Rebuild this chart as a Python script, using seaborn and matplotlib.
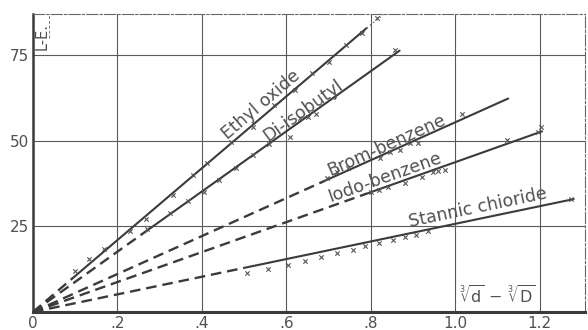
import numpy as np
import pandas as pd
import matplotlib
matplotlib.use("Agg")
import matplotlib.pyplot as plt
import seaborn as sns

# ---- data -------------------------------------------------------------
names = ["Ethyl oxide", "Di-isobutyl", "Brom-benzene", "Iodo-benzene", "Stannic chioride"]

# fitted lines: origin -> start of observed range (dashed) -> end (solid)
ethyl_line_x = [0.0, 0.095, 0.79]
ethyl_line_y = [0.0, 10.0, 83.0]
ethyl_ext_x = [0.79, 0.83]
ethyl_ext_y = [83.0, 87.0]
diiso_line_x = [0.0, 0.27, 0.868]
diiso_line_y = [0.0, 23.8, 76.4]
brom_line_x = [0.0, 0.69, 1.125]
brom_line_y = [0.0, 38.3, 62.4]
iodo_line_x = [0.0, 0.79, 1.205]
iodo_line_y = [0.0, 34.6, 52.8]
stan_line_x = [0.0, 0.50, 1.28]
stan_line_y = [0.0, 12.9, 33.0]

# observations
ethyl_x = [0.099, 0.133, 0.168, 0.230, 0.267, 0.331, 0.379, 0.412, 0.47, 0.52, 0.57, 0.62, 0.66, 0.70, 0.74, 0.78, 0.815]
ethyl_y = [12.0, 15.5, 18.4, 23.7, 27.2, 34.2, 40.1, 43.6, 49.8, 54.0, 60.5, 64.8, 70.0, 73.2, 78.0, 81.5, 86.0]
diiso_x = [0.270, 0.324, 0.367, 0.405, 0.44, 0.48, 0.52, 0.56, 0.608, 0.632, 0.651, 0.670, 0.857]
diiso_y = [24.3, 28.9, 32.5, 35.1, 38.5, 42.0, 45.8, 49.0, 51.2, 56.7, 57.0, 57.9, 76.6]
brom_x = [0.696, 0.720, 0.746, 0.821, 0.845, 0.869, 0.892, 0.911, 1.015]
brom_y = [39.2, 40.9, 42.1, 45.0, 46.8, 47.4, 49.4, 49.4, 57.9]
iodo_x = [0.80, 0.82, 0.84, 0.88, 0.92, 0.947, 0.96, 0.975, 1.122, 1.195, 1.202]
iodo_y = [35.2, 35.8, 36.5, 37.8, 39.5, 40.9, 41.2, 41.5, 50.3, 52.6, 54.1]
stan_x = [0.507, 0.556, 0.604, 0.644, 0.682, 0.720, 0.757, 0.786, 0.819, 0.852, 0.880, 0.906, 0.935, 1.273]
stan_y = [11.4, 12.6, 13.7, 14.9, 16.1, 17.3, 18.1, 19.3, 20.2, 21.1, 21.9, 22.5, 23.7, 33.0]

x_ticks = [0.0, 0.2, 0.4, 0.6, 0.8, 1.0, 1.2]
x_tick_labels = ["0", ".2", ".4", ".6", ".8", "1.0", "1.2"]
y_ticks = [25, 50, 75]
y_tick_labels = ["25", "50", "75"]

# label anchor points (centre of each curve label)
label_x = [0.54, 0.64, 0.838, 0.833, 1.053]
label_y = [60.5, 59.0, 48.8, 39.5, 30.4]

# ---- style ------------------------------------------------------------
sns.set_theme(style="white")
plt.rcParams["font.family"] = ["DejaVu Sans"]
plt.rcParams["mathtext.fontset"] = "dejavusans"
ink = "#3b3b3b"
txt = "#505050"

fig = plt.figure(figsize=(5.88, 3.30), dpi=100, facecolor="white")
ax = fig.add_axes([0.056, 0.0545, 0.939, 0.903])
ax.set_facecolor("white")
ax.set_xlim(0, 1.307)
ax.set_ylim(0, 87.1)

ax.set_xticks(x_ticks)
ax.set_xticklabels(x_tick_labels)
ax.set_yticks(y_ticks)
ax.set_yticklabels(y_tick_labels)
ax.tick_params(length=0, labelsize=11, labelcolor=txt)
ax.tick_params(axis="x", pad=3)
ax.tick_params(axis="y", pad=3)
ax.grid(True, color="#5a5a5a", linewidth=0.8)
ax.set_axisbelow(True)

for side in ("top", "right"):
    ax.spines[side].set_linestyle((0, (10, 2, 2, 2)))
    ax.spines[side].set_linewidth(0.8)
    ax.spines[side].set_color("#666666")
ax.spines["bottom"].set_linewidth(2.2)
ax.spines["bottom"].set_color(ink)
ax.spines["left"].set_linewidth(1.8)
ax.spines["left"].set_color(ink)

lines = [
    (ethyl_line_x, ethyl_line_y),
    (diiso_line_x, diiso_line_y),
    (brom_line_x, brom_line_y),
    (iodo_line_x, iodo_line_y),
    (stan_line_x, stan_line_y),
]
points = [
    (ethyl_x, ethyl_y),
    (diiso_x, diiso_y),
    (brom_x, brom_y),
    (iodo_x, iodo_y),
    (stan_x, stan_y),
]

for (lx, ly), (px, py) in zip(lines, points):
    dashed = pd.DataFrame({"x": lx[:2], "y": ly[:2]})
    solid = pd.DataFrame({"x": lx[1:], "y": ly[1:]})
    sns.lineplot(data=dashed, x="x", y="y", ax=ax, color=ink, linewidth=1.7,
                 linestyle=(0, (4.5, 2.5)), sort=False, estimator=None)
    sns.lineplot(data=solid, x="x", y="y", ax=ax, color=ink, linewidth=1.5,
                 sort=False, estimator=None)
    sns.scatterplot(x=px, y=py, ax=ax, marker="x", s=10, color="#555555",
                    linewidth=0.8, zorder=3)

ext = pd.DataFrame({"x": ethyl_ext_x, "y": ethyl_ext_y})
sns.lineplot(data=ext, x="x", y="y", ax=ax, color="#777777", linewidth=1.0,
             linestyle=(0, (1, 2)), sort=False, estimator=None)

ax.set_xlabel("")
ax.set_ylabel("")

# curve labels, rotated to follow each line on screen
fig.canvas.draw()
for name, (lx, ly), tx, ty in zip(names, lines, label_x, label_y):
    p0 = ax.transData.transform((lx[1], ly[1]))
    p1 = ax.transData.transform((lx[2], ly[2]))
    ang = np.degrees(np.arctan2(p1[1] - p0[1], p1[0] - p0[0]))
    ax.text(tx, ty, name, rotation=ang, rotation_mode="anchor",
            ha="center", va="center", fontsize=12.5, color=txt)

# axis captions
ax.text(0.022, 80.5, "L-E.", rotation=90, ha="center", va="center",
        fontsize=10.5, color=txt)
ax.plot([0.038, 0.038], [80, 87.1], color="#777777", linewidth=0.7,
        linestyle=(0, (3, 2)))
ax.text(1.1, 4.8, r"$\sqrt[3]{\mathrm{d}}\,-\,\sqrt[3]{\mathrm{D}}$", ha="center",
        va="center", fontsize=11.5, color=txt)

fig.savefig("out.png", dpi=100, facecolor="white")
